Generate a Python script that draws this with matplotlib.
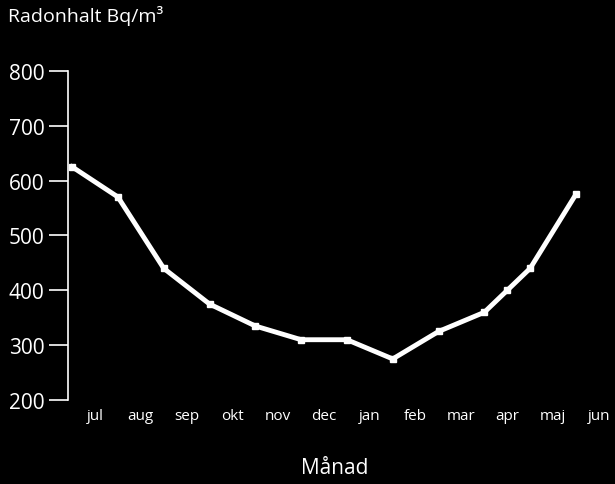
import matplotlib
matplotlib.use("Agg")
import matplotlib.pyplot as plt

months = ["jul","aug","sep","okt","nov","dec","jan","feb","mar","apr","maj","jun"]
x_pos = [0.5,1.5,2.5,3.5,4.5,5.5,6.5,7.5,8.5,9.5,10.0,10.5,11.5]
radon = [625,570,440,375,335,310,310,275,325,360,400,440,575]

plt.rcParams['font.family'] = ['Open Sans','DejaVu Sans']
fig = plt.figure(figsize=(6.15,4.85), dpi=100, facecolor='black')
ax = fig.add_axes([0.1106,0.173,0.881,0.679], facecolor='black')
ax.plot(x_pos, radon, color='white', lw=3.5, marker='s', ms=4, solid_joinstyle='miter')
ax.set_xlim(0.41,12.24)
ax.set_ylim(200,800)
ax.set_yticks(range(200,801,100))
ax.set_xticks(range(1,13))
ax.set_xticklabels(months)
for s in ['top','right','bottom']:
    ax.spines[s].set_visible(False)
ax.spines['left'].set_color('white')
ax.spines['left'].set_linewidth(1.2)
ax.tick_params(axis='y', colors='white', labelsize=15, length=14, width=1.2, pad=3)
ax.tick_params(axis='x', colors='white', labelsize=11, length=0, pad=6)
fig.text(0.013,0.968,"Radonhalt Bq/m³", color='white', fontsize=14, va='center')
fig.text(0.545,0.035,"Månad", color='white', fontsize=15, ha='center', va='center')
fig.savefig("out.png", facecolor='black')
